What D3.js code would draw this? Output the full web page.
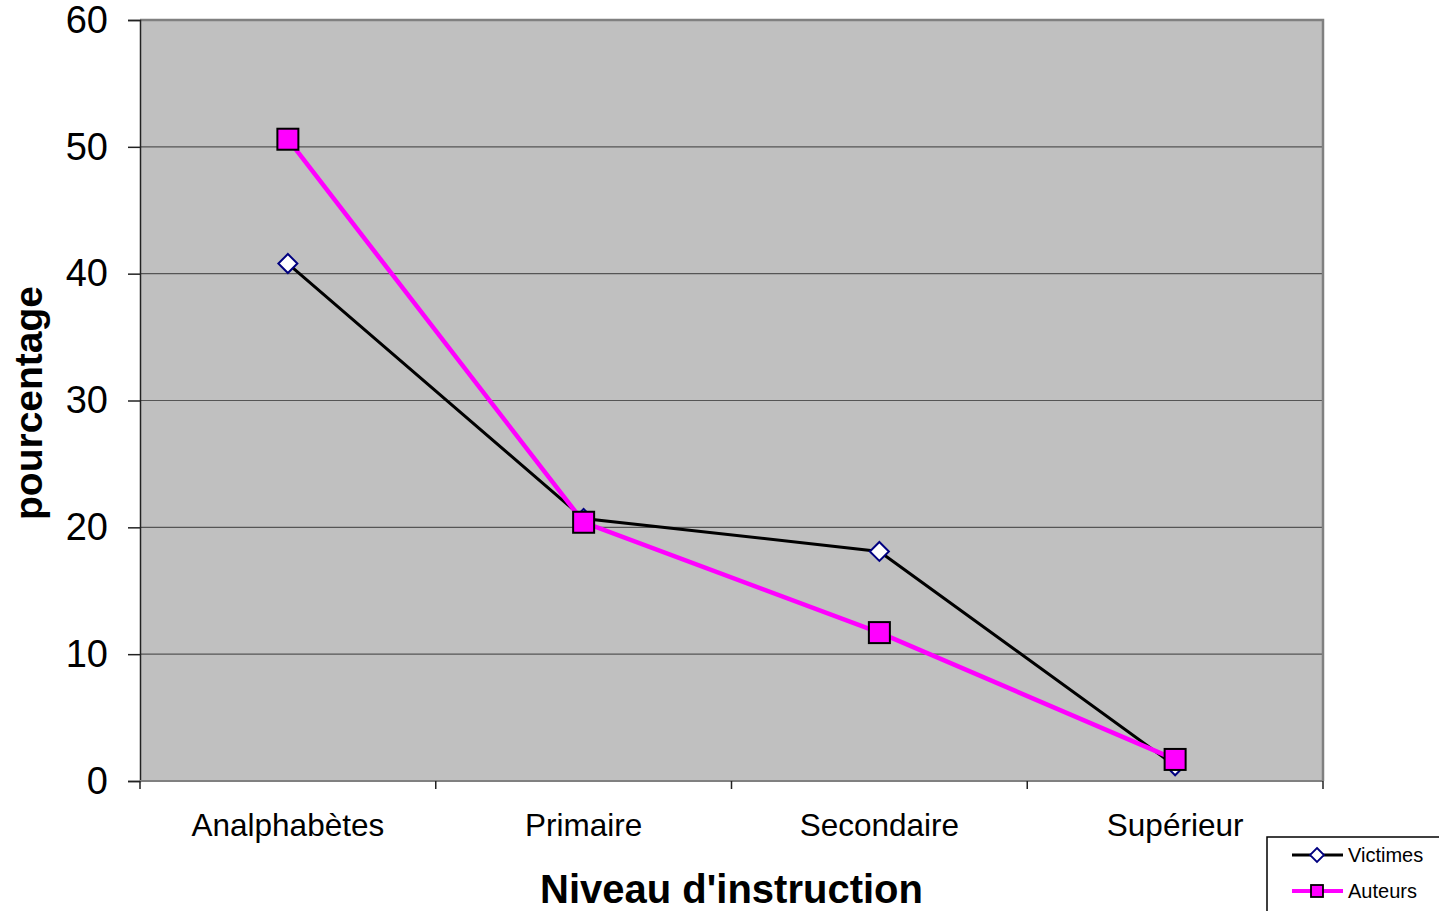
<!DOCTYPE html>
<html>
<head>
<meta charset="utf-8">
<script src="https://cdn.jsdelivr.net/npm/d3@7"></script>
<style>
  body { margin: 0; background: #fff; }
  svg { font-family: "Liberation Sans", Arial, sans-serif; }
</style>
</head>
<body>
<div id="chart"></div>
<script>
// Données
const categories = ["Analphabètes", "Primaire", "Secondaire", "Supérieur"];
const victimes = [40.8, 20.7, 18.1, 1.2];
const auteurs = [50.6, 20.4, 11.7, 1.7];
const yTicks = [0, 10, 20, 30, 40, 50, 60];

const width = 1439, height = 911;
const margin = { top: 20, right: 116, bottom: 130, left: 140 };
const chartWidth = width - margin.left - margin.right;
const chartHeight = height - margin.top - margin.bottom;

const svg = d3.select("#chart").append("svg")
    .attr("width", width)
    .attr("height", height);

const g = svg.append("g")
    .attr("transform", `translate(${margin.left},${margin.top})`);

const xScale = d3.scaleBand()
    .domain(categories)
    .range([0, chartWidth]);

const yScale = d3.scaleLinear()
    .domain([0, 60])
    .range([chartHeight, 0]);

// fond gris
g.append("rect")
    .attr("width", chartWidth)
    .attr("height", chartHeight)
    .attr("fill", "#c0c0c0");

// grille
g.selectAll(".grid")
    .data(yTicks.filter(d => d > 0))
    .enter().append("line")
    .attr("x1", 0).attr("x2", chartWidth)
    .attr("y1", d => yScale(d)).attr("y2", d => yScale(d))
    .attr("stroke", "#555")
    .attr("stroke-width", 1.2);

// bordure droite / haut
g.append("path")
    .attr("d", `M0,0H${chartWidth}V${chartHeight}`)
    .attr("fill", "none")
    .attr("stroke", "#808080")
    .attr("stroke-width", 2.5);

// axe Y
const yAxis = g.append("g")
    .call(d3.axisLeft(yScale).tickValues(yTicks).tickSize(12).tickPadding(20));
yAxis.select(".domain").attr("stroke", "#222").attr("stroke-width", 1.5);
yAxis.selectAll(".tick line").attr("stroke", "#222").attr("stroke-width", 1.5);
yAxis.selectAll("text")
    .style("font-size", "38px")
    .attr("fill", "#000")
    .attr("font-family", "Liberation Sans, Arial, sans-serif");

// axe X
const xAxis = g.append("g")
    .attr("transform", `translate(0,${chartHeight})`);
xAxis.append("line")
    .attr("x1", 0).attr("x2", chartWidth)
    .attr("stroke", "#808080").attr("stroke-width", 2);
const boundaries = categories.map(c => xScale(c)).concat([chartWidth]);
xAxis.selectAll(".xt")
    .data(boundaries)
    .enter().append("line")
    .attr("x1", d => d).attr("x2", d => d)
    .attr("y1", 0).attr("y2", 8)
    .attr("stroke", "#222").attr("stroke-width", 1.5);
xAxis.selectAll(".xl")
    .data(categories)
    .enter().append("text")
    .attr("x", d => xScale(d) + xScale.bandwidth() / 2)
    .attr("y", 55)
    .attr("text-anchor", "middle")
    .style("font-size", "31.5px")
    .text(d => d);

const cx = d => xScale(d) + xScale.bandwidth() / 2;

const line = d3.line()
    .x((d, i) => cx(categories[i]))
    .y(d => yScale(d));

// Victimes
g.append("path")
    .datum(victimes)
    .attr("d", line)
    .attr("fill", "none")
    .attr("stroke", "#000")
    .attr("stroke-width", 3);

// Auteurs
g.append("path")
    .datum(auteurs)
    .attr("d", line)
    .attr("fill", "none")
    .attr("stroke", "#ff00ff")
    .attr("stroke-width", 4.5);

// marqueurs Victimes (losange)
g.selectAll(".vm")
    .data(victimes)
    .enter().append("path")
    .attr("transform", (d, i) => `translate(${cx(categories[i])},${yScale(d)})`)
    .attr("d", "M0,-9.5L9.5,0L0,9.5L-9.5,0Z")
    .attr("fill", "#fff")
    .attr("stroke", "#000080")
    .attr("stroke-width", 2);

// marqueurs Auteurs (carré)
g.selectAll(".am")
    .data(auteurs)
    .enter().append("rect")
    .attr("x", (d, i) => cx(categories[i]) - 10.5)
    .attr("y", d => yScale(d) - 10.5)
    .attr("width", 21)
    .attr("height", 21)
    .attr("fill", "#ff00ff")
    .attr("stroke", "#000")
    .attr("stroke-width", 2);

// titres des axes
svg.append("text")
    .attr("x", margin.left + chartWidth / 2)
    .attr("y", 903)
    .attr("text-anchor", "middle")
    .style("font-size", "40px")
    .style("font-weight", "bold")
    .text("Niveau d'instruction");

svg.append("text")
    .attr("transform", `translate(42,403) rotate(-90)`)
    .attr("text-anchor", "middle")
    .style("font-size", "39px")
    .style("font-weight", "bold")
    .text("pourcentage");

// légende
const legend = svg.append("g").attr("transform", "translate(1267,837)");
legend.append("rect")
    .attr("width", 175).attr("height", 76)
    .attr("fill", "#fff")
    .attr("stroke", "#000")
    .attr("stroke-width", 1.5);

const lv = legend.append("g").attr("transform", "translate(0,18)");
lv.append("line").attr("x1", 25).attr("x2", 76).attr("stroke", "#000").attr("stroke-width", 3);
lv.append("path").attr("transform", "translate(50,0)").attr("d", "M0,-7L7,0L0,7L-7,0Z")
    .attr("fill", "#fff").attr("stroke", "#000080").attr("stroke-width", 1.8);
lv.append("text").attr("x", 81).attr("y", 7).style("font-size", "20px").text("Victimes");

const la = legend.append("g").attr("transform", "translate(0,54)");
la.append("line").attr("x1", 25).attr("x2", 76).attr("stroke", "#ff00ff").attr("stroke-width", 4);
la.append("rect").attr("x", 44).attr("y", -6).attr("width", 12).attr("height", 12)
    .attr("fill", "#ff00ff").attr("stroke", "#000").attr("stroke-width", 1.8);
la.append("text").attr("x", 81).attr("y", 7).style("font-size", "20px").text("Auteurs");
</script>
</body>
</html>
